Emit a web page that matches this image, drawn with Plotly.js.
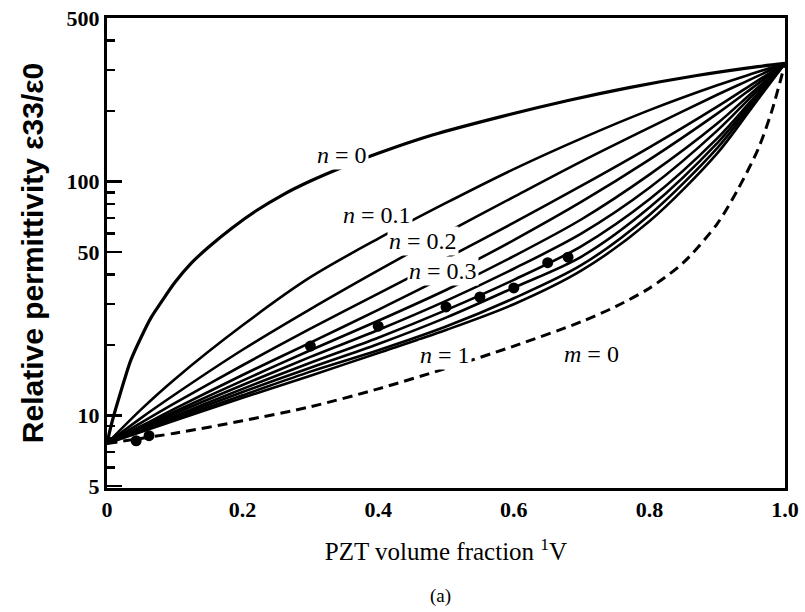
<!DOCTYPE html>
<html>
<head>
<meta charset="utf-8">
<script src="https://cdn.plot.ly/plotly-3.0.1.min.js"></script>
<style>html,body{margin:0;padding:0;background:#fff;}#chart{width:805px;height:612px;}</style>
</head>
<body>
<div id="chart"></div>
<script>
// x grid for the n-family curves
const xGrid = [0, 0.05, 0.1, 0.2, 0.3, 0.4, 0.5, 0.6, 0.7, 0.8, 0.9, 0.95, 1.0];

// n = 0 curve (own x points)
const n0X = [0, 0.005, 0.01, 0.018, 0.025, 0.035, 0.05, 0.065, 0.08, 0.1, 0.125, 0.15, 0.185, 0.22, 0.26, 0.3, 0.35, 0.4, 0.48, 0.58, 0.68, 0.77, 0.87, 0.96, 1.0];
const n0Y = [7.6, 8.8, 10, 12, 14, 17.2, 21.5, 26.2, 30.5, 37, 45, 52.5, 63.5, 75, 88, 100.5, 116, 132, 158, 189, 222, 252, 284, 310, 320];

// n-family curves read on xGrid
const n01 = [7.6, 10.6, 14.3, 24.3, 39, 57, 81, 113, 153, 202, 258, 288, 320];
const n02 = [7.6, 9.75, 12.3, 19.1, 28.5, 41.7, 60.3, 86, 122, 170, 235, 274, 320];
const n03 = [7.6, 9.3, 11.3, 16.4, 23.5, 33.2, 46.9, 66.7, 96, 140, 209, 259, 320];
const n04 = [7.6, 9.0, 10.7, 14.9, 20.5, 28.3, 39.5, 56.2, 82, 124, 195, 249, 320];
const n05 = [7.6, 8.9, 10.4, 14.1, 19, 25.4, 34.4, 48, 69, 107, 177, 238, 320];
const n06 = [7.6, 8.8, 10.2, 13.5, 17.8, 23.2, 30.9, 42.4, 60, 94, 165, 230, 320];
const n07 = [7.6, 8.7, 9.95, 13.0, 16.8, 21.5, 28.2, 38.0, 53, 84, 153, 221, 320];
const n08 = [7.6, 8.63, 9.8, 12.6, 16, 20.2, 26.2, 35.2, 47.8, 77.4, 146, 216, 320];
const n09 = [7.6, 8.58, 9.68, 12.2, 15.4, 19.0, 24.0, 31.7, 44, 72, 139, 211, 320];
const n10 = [7.6, 8.5, 9.53, 11.9, 14.8, 18.5, 23.2, 29.9, 41.7, 67.6, 132, 205, 320];

// m = 0 dashed curve
const mX = [0, 0.1, 0.2, 0.3, 0.4, 0.5, 0.6, 0.7, 0.75, 0.8, 0.85, 0.9, 0.93, 0.96, 0.98, 1.0];
const mY = [7.6, 8.4, 9.5, 10.9, 13.0, 15.9, 19.8, 25.2, 29.2, 35, 45, 66, 92, 137, 198, 320];

// measured points
const dotX = [0.043, 0.062, 0.30, 0.40, 0.50, 0.55, 0.60, 0.65, 0.68];
const dotY = [7.8, 8.2, 19.8, 24.1, 29.1, 32.1, 35.1, 45, 47.5];

// axis ticks
const xTickVals = [0, 0.2, 0.4, 0.6, 0.8, 1.0];
const xTickText = ['0', '0.2', '0.4', '0.6', '0.8', '1.0'];
const yTickVals = [5, 10, 50, 100, 500];
const yTickText = ['5', '10', '50', '100', '500'];
const yMinorVals = [6, 7, 8, 9, 20, 30, 40, 60, 70, 80, 90, 200, 300, 400];

const nFamily = [
  {name: 'n = 0.1', y: n01}, {name: 'n = 0.2', y: n02}, {name: 'n = 0.3', y: n03},
  {name: 'n = 0.4', y: n04}, {name: 'n = 0.5', y: n05}, {name: 'n = 0.6', y: n06},
  {name: 'n = 0.7', y: n07}, {name: 'n = 0.8', y: n08}, {name: 'n = 0.9', y: n09},
  {name: 'n = 1', y: n10}
];

const traces = [];
traces.push({x: n0X, y: n0Y, name: 'n = 0', mode: 'lines', line: {color: '#000', width: 3.2, shape: 'spline', smoothing: 0.8}});
nFamily.forEach(c => traces.push({x: xGrid, y: c.y, name: c.name, mode: 'lines', line: {color: '#000', width: 2.6, shape: 'spline', smoothing: 0.9}}));
traces.push({x: mX, y: mY, name: 'm = 0', mode: 'lines', line: {color: '#000', width: 3, dash: '10px,6px', shape: 'spline', smoothing: 0.8}});
traces.push({x: dotX, y: dotY, name: 'measured', mode: 'markers', marker: {color: '#000', size: 11}});

const serif = 'Liberation Serif, Times New Roman, serif';
function lab(txt, x, y) {
  return {text: txt, x: x, y: y, xref: 'x', yref: 'y', showarrow: false,
          font: {family: serif, size: 24, color: '#000'}, bgcolor: '#fff', borderpad: 1};
}

const layout = {
  width: 805, height: 612,
  margin: {l: 107, r: 20, t: 18, b: 124},
  paper_bgcolor: '#fff', plot_bgcolor: '#fff',
  showlegend: false,
  xaxis: {
    range: [0, 1], tickvals: xTickVals, ticktext: xTickText, ticks: '',
    showline: true, mirror: true, linewidth: 3, linecolor: '#000',
    showgrid: false, zeroline: false,
    tickfont: {family: serif, size: 22, color: '#000', weight: 'bold'},
    title: {text: 'PZT volume fraction <sup>1</sup>V', font: {family: serif, size: 25, color: '#000'}, standoff: 22}
  },
  yaxis: {
    type: 'log', range: [Math.log10(4.9), Math.log10(500)],
    tickvals: yTickVals, ticktext: yTickText, ticks: 'inside', ticklen: 15, tickwidth: 2.5, tickcolor: '#000',
    minor: {tickmode: 'array', tickvals: yMinorVals, ticks: 'inside', ticklen: 8, tickwidth: 2.5, tickcolor: '#000', showgrid: false},
    showline: true, mirror: true, linewidth: 3, linecolor: '#000',
    showgrid: false, zeroline: false,
    tickfont: {family: serif, size: 22, color: '#000', weight: 'bold'},
    title: {text: 'Relative permittivity ε33/ε0', font: {family: 'Liberation Sans, Arial, sans-serif', size: 30, color: '#000', weight: 'bold'}, standoff: 15}
  },
  annotations: [
    lab('<i>n</i> = 0', 0.347, 2.114),
    lab('<i>n</i> = 0.1', 0.398, 1.857),
    lab('<i>n</i> = 0.2', 0.466, 1.746),
    lab('<i>n</i> = 0.3', 0.496, 1.618),
    lab('<i>n</i> = 1', 0.499, 1.259),
    lab('<i>m</i> = 0', 0.714, 1.263),
    {text: '(a)', x: (440 - 107) / (805 - 107 - 20), y: -(596 - 488) / (612 - 18 - 124),
     xref: 'paper', yref: 'paper', yanchor: 'middle', xanchor: 'center', showarrow: false,
     font: {family: serif, size: 19, color: '#000'}}
  ]
};

Plotly.newPlot('chart', traces, layout, {displayModeBar: false, staticPlot: true});
</script>
</body>
</html>
